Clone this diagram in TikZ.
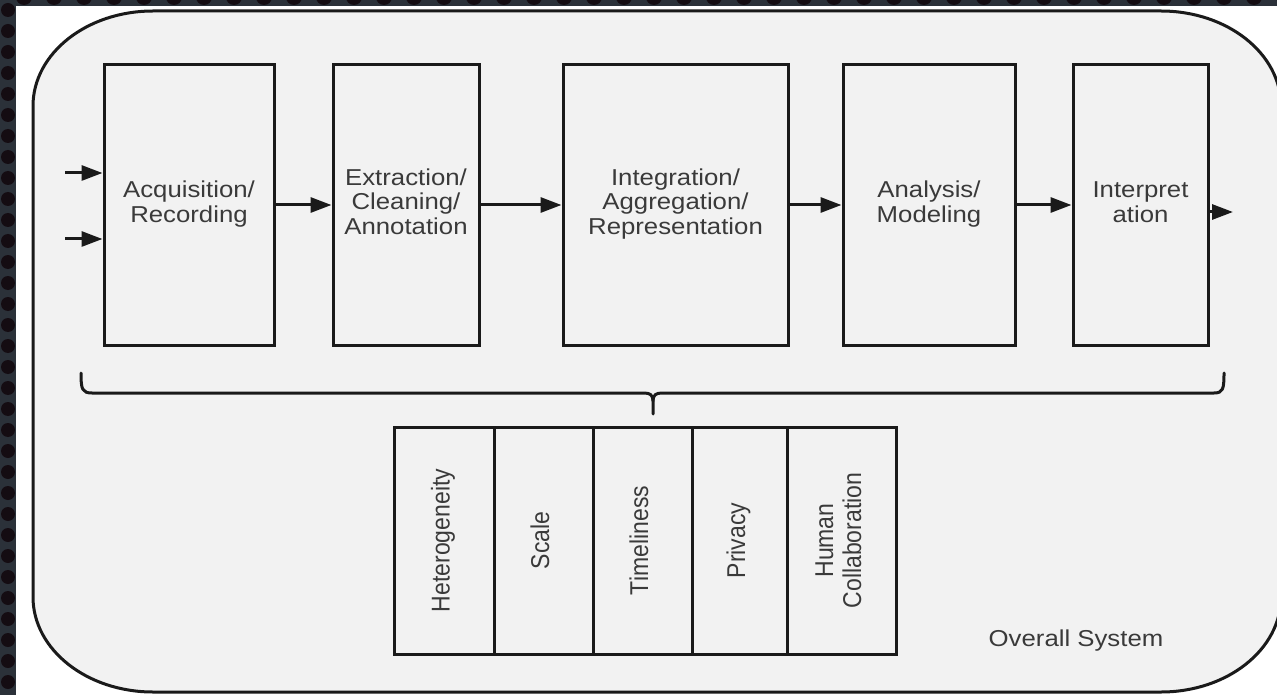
\documentclass[tikz,border=0pt]{standalone}
\usepackage{fontspec}
\setmainfont{Liberation Sans}
\usetikzlibrary{arrows.meta}
\definecolor{frame}{HTML}{2B3139}
\definecolor{dots}{HTML}{140C12}
\definecolor{panel}{HTML}{F2F2F2}
\definecolor{ink}{HTML}{1A1A1A}
\definecolor{txt}{HTML}{3A3A3A}
\newcommand{\hwide}[1]{\scalebox{1.12}[1]{\begin{tabular}{@{}c@{}}#1\end{tabular}}}
\newcommand{\vwide}[1]{\scalebox{1}[1.12]{\begin{tabular}{@{}c@{}}#1\end{tabular}}}
\tikzset{
  stage/.style={draw=ink, line width=3pt, inner sep=0pt, minimum height=280pt, text=txt, font=\fontsize{23}{25}\selectfont},
  factor/.style={draw=ink, line width=3pt, inner sep=0pt, minimum height=227pt},
  factortext/.style={rotate=90, text=txt, font=\fontsize{23}{25}\selectfont, inner sep=0pt},
  flow/.style={draw=ink, line width=3pt, -{Triangle[length=21pt,width=15pt]}},
  brace/.style={draw=ink, line width=3pt, line cap=round},
  panelline/.style={draw=ink, line width=3pt, fill=panel}
}
\begin{document}
\begin{tikzpicture}[x=1pt, y=-1pt]
\useasboundingbox (0,0) rectangle (1277,695);
% outer frame
\fill[frame] (0,0) rectangle (1277,695);
\fill[white] (16,6) rectangle (1277,695);
\foreach \k in {0,...,33} \fill[dots] (8,10+21*\k) circle (7);
\foreach \k in {0,...,42} \fill[dots] (24+30*\k,-3) circle (8);
% panel
\path[panelline] (33,106) arc[start angle=180, end angle=270, x radius=120, y radius=95]
  -- (1161,11) arc[start angle=270, end angle=360, x radius=120, y radius=95]
  -- (1281,597) arc[start angle=0, end angle=90, x radius=120, y radius=95]
  -- (153,692) arc[start angle=90, end angle=180, x radius=120, y radius=95] -- cycle;
% stages
\node[stage, minimum width=170pt] (b1) at (189,205) {\hwide{Acquisition/\\Recording}};
\node[stage, minimum width=146pt] (b2) at (406,205) {\hwide{Extraction/\\Cleaning/\\Annotation}};
\node[stage, minimum width=225pt] (b3) at (675.5,205) {\hwide{Integration/\\Aggregation/\\Representation}};
\node[stage, minimum width=172pt] (b4) at (929,205) {\hwide{Analysis/\\Modeling}};
\node[stage, minimum width=135pt] (b5) at (1140.5,205) {\hwide{Interpret\\ation}};
% arrows
\coordinate (in1) at (65,173);
\coordinate (in2) at (65,239);
\coordinate (out) at (1233,212);
\draw[flow] (in1) -- (b1.west |- in1);
\draw[flow] (in2) -- (b1.west |- in2);
\draw[flow] (b1.east) -- (b2.west);
\draw[flow] (b2.east) -- (b3.west);
\draw[flow] (b3.east) -- (b4.west);
\draw[flow] (b4.east) -- (b5.west);
\draw[flow] (b5.east |- out) -- (out);
% brace
\draw[brace] (81,373) .. controls (81,389) and (82,393) .. (92,393) -- (644,393)
  .. controls (650,393) and (653,395) .. (653,401) -- (653,414);
\draw[brace] (653,401) .. controls (653,395) and (656,393) .. (662,393) -- (1214,393)
  .. controls (1223,393) and (1224,389) .. (1224,373);
% factors
\node[factor, minimum width=100pt] (c1) at (444,540.5) {};
\node[factor, minimum width=99pt] (c2) at (543.5,540.5) {};
\node[factor, minimum width=99pt] (c3) at (642.5,540.5) {};
\node[factor, minimum width=95pt] (c4) at (739.5,540.5) {};
\node[factor, minimum width=109pt] (c5) at (841.5,540.5) {};
\node[factortext] (t1) at (c1) {\vwide{Heterogeneity}};
\node[factortext] (t2) at (c2) {\vwide{Scale}};
\node[factortext] (t3) at (c3) {\vwide{Timeliness}};
\node[factortext] (t4) at (c4) {\vwide{Privacy}};
\node[factortext] (t5) at (c5) {\vwide{Human\\Collaboration}};
% caption
\node[text=txt, font=\fontsize{23}{25}\selectfont] (sys) at (1076,641) {\scalebox{1.12}[1]{Overall System}};
\end{tikzpicture}
\end{document}
